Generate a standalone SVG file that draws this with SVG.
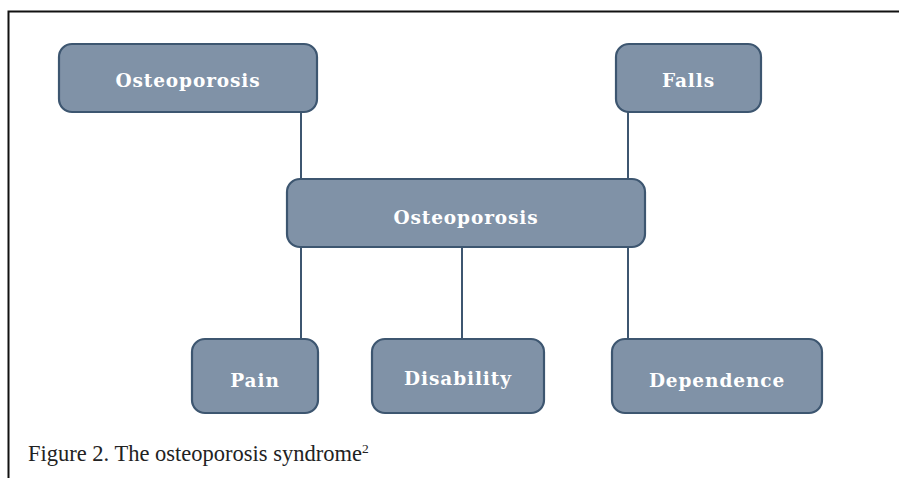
<svg xmlns="http://www.w3.org/2000/svg" width="899" height="478" viewBox="0 0 899 478">
<style>
.box{fill:#8092a7;stroke:#3d5670;stroke-width:2.2}
.lbl{font-family:"DejaVu Serif",serif;font-weight:bold;font-size:18.5px;letter-spacing:0.9px;fill:#ffffff;text-anchor:middle}
.conn{stroke:#3d5670;stroke-width:2;fill:none}
.cap{font-family:"Liberation Serif",serif;font-size:22.5px;fill:#222}
</style>
<rect width="899" height="478" fill="#ffffff"/>
<path d="M8.5,478 V11.5 H899" fill="none" stroke="#111" stroke-width="2"/>
<g id="connectors">
<line class="conn" x1="301" y1="111" x2="301" y2="180"/>
<line class="conn" x1="628" y1="111" x2="628" y2="180"/>
<line class="conn" x1="301" y1="246" x2="301" y2="340"/>
<line class="conn" x1="462" y1="246" x2="462" y2="340"/>
<line class="conn" x1="628" y1="246" x2="628" y2="340"/>
</g>
<g id="osteoporosis-top"><rect class="box" x="59" y="44" width="258" height="68" rx="13"/><text class="lbl" x="188" y="87">Osteoporosis</text></g>
<g id="falls"><rect class="box" x="616" y="44" width="145" height="68" rx="13"/><text class="lbl" x="688.5" y="87">Falls</text></g>
<g id="osteoporosis-center"><rect class="box" x="287" y="179" width="358" height="68" rx="13"/><text class="lbl" x="466" y="224">Osteoporosis</text></g>
<g id="pain"><rect class="box" x="192" y="339" width="126" height="74" rx="13"/><text class="lbl" x="255" y="387">Pain</text></g>
<g id="disability"><rect class="box" x="372" y="339" width="172" height="74" rx="13"/><text class="lbl" x="458" y="385">Disability</text></g>
<g id="dependence"><rect class="box" x="612" y="339" width="210" height="74" rx="13"/><text class="lbl" x="717" y="387">Dependence</text></g>
<text class="cap" x="28" y="461">Figure 2. The osteoporosis syndrome<tspan font-size="13.5" dy="-8">2</tspan></text>
</svg>
